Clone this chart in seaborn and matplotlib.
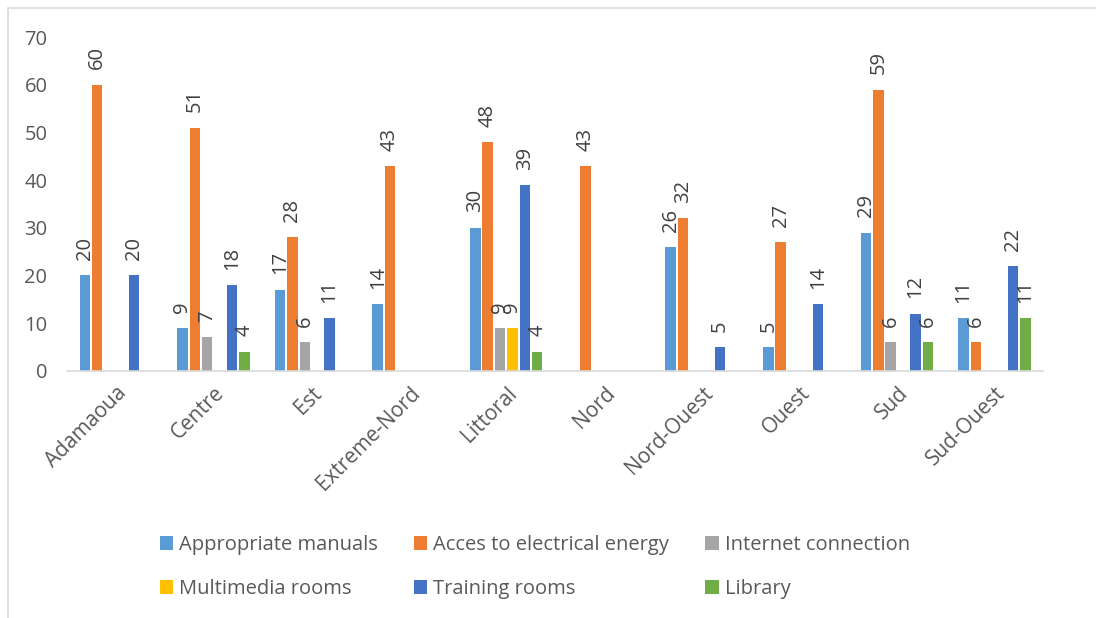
import matplotlib
matplotlib.use('Agg')
import matplotlib.pyplot as plt
import matplotlib.transforms as mtransforms
import seaborn as sns
import pandas as pd
from matplotlib.patches import Rectangle

regions = ['Adamaoua', 'Centre', 'Est', 'Extreme-Nord', 'Littoral', 'Nord',
           'Nord-Ouest', 'Ouest', 'Sud', 'Sud-Ouest']
series_names = ['Appropriate manuals', 'Acces to electrical energy', 'Internet connection',
                'Multimedia rooms', 'Training rooms', 'Library']
appropriate_manuals = [20, 9, 17, 14, 30, 0, 26, 5, 29, 11]
electrical_energy = [60, 51, 28, 43, 48, 43, 32, 27, 59, 6]
internet_connection = [0, 7, 6, 0, 9, 0, 0, 0, 6, 0]
multimedia_rooms = [0, 0, 0, 0, 9, 0, 0, 0, 0, 0]
training_rooms = [20, 18, 11, 0, 39, 0, 5, 14, 12, 22]
library = [0, 4, 0, 0, 4, 0, 0, 0, 6, 11]
colors = ['#5B9BD5', '#ED7D31', '#A5A5A5', '#FFC000', '#4472C4', '#70AD47']

series_values = [appropriate_manuals, electrical_energy, internet_connection,
                 multimedia_rooms, training_rooms, library]
rows = []
for name, vals in zip(series_names, series_values):
    for reg, v in zip(regions, vals):
        rows.append({'Region': reg, 'Series': name, 'Value': v})
df = pd.DataFrame(rows)

sns.set_theme(style='white')
plt.rcParams['font.family'] = ['Open Sans', 'DejaVu Sans']

fig = plt.figure(figsize=(10.96, 6.18), dpi=100)
ax = fig.add_axes([0.061, 0.400, 0.891, 0.540])

sns.barplot(data=df, x='Region', y='Value', hue='Series', hue_order=series_names,
            order=regions, palette=colors, width=0.76, gap=0.15, saturation=1,
            linewidth=0, ax=ax, errorbar=None)

for cont in ax.containers:
    labels = [f'{int(v)}' if v > 0 else '' for v in cont.datavalues]
    ax.bar_label(cont, labels=labels, rotation=90, padding=11, fontsize=14.5, color='#404040')

ax.set_ylim(0, 70)
ax.set_yticks(range(0, 71, 10))
ax.set_xlabel('')
ax.set_ylabel('')
ax.tick_params(axis='y', length=0, labelsize=14.5, labelcolor='#595959', pad=14)
ax.tick_params(axis='x', length=0, labelsize=15, labelcolor='#595959', pad=14)
for lab in ax.get_xticklabels():
    lab.set_rotation(45)
    lab.set_ha('right')
    lab.set_va('center')
    lab.set_rotation_mode('anchor')
    lab.set_transform(lab.get_transform() + mtransforms.ScaledTranslation(8 / 100, 0, fig.dpi_scale_trans))
for s in ['top', 'right', 'left']:
    ax.spines[s].set_visible(False)
ax.spines['bottom'].set_color('#D9D9D9')
ax.spines['bottom'].set_linewidth(1.2)

handles, labels = ax.get_legend_handles_labels()
ax.get_legend().remove()
order = [0, 3, 1, 4, 2, 5]
fig.legend([handles[i] for i in order], [labels[i] for i in order], ncol=3,
           loc='center', bbox_to_anchor=(0.488, 0.0825), frameon=False,
           fontsize=14.5, handlelength=0.65, handleheight=0.65, handletextpad=0.3,
           columnspacing=1.8, labelspacing=1.2, labelcolor='#595959')

fig.patches.append(Rectangle((8 / 1096, -0.1), 1.2, 1.1 - 8 / 618, transform=fig.transFigure,
                             fill=False, edgecolor='#D9D9D9', linewidth=1.2))

fig.savefig('out.png', dpi=100)
